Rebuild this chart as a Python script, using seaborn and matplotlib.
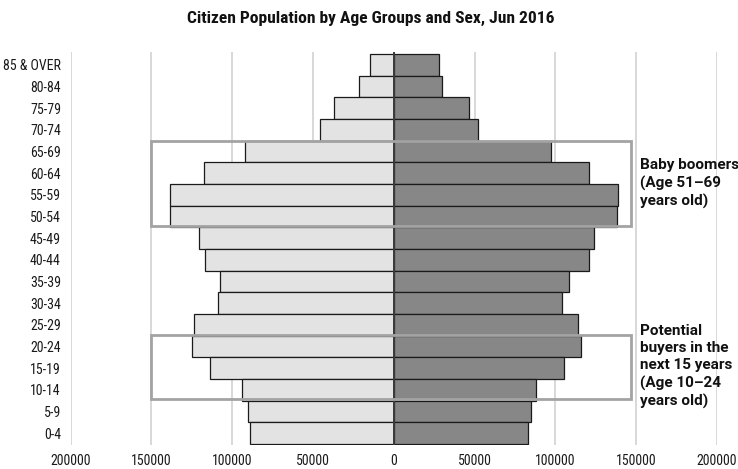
import matplotlib
matplotlib.use("Agg")
import matplotlib.pyplot as plt
import matplotlib.ticker as mticker
from matplotlib.patches import Rectangle
import numpy as np
import pandas as pd
import seaborn as sns

# Age groups, listed from the oldest (top) to the youngest (bottom)
age_groups = ["85 & OVER", "80-84", "75-79", "70-74", "65-69", "60-64", "55-59",
              "50-54", "45-49", "40-44", "35-39", "30-34", "25-29", "20-24",
              "15-19", "10-14", "5-9", "0-4"]
males = [14500, 21300, 37100, 45800, 92000, 117600, 138500, 138500, 120300,
         117000, 107500, 108800, 123400, 125000, 113500, 93700, 90000, 89100]
females = [27800, 30100, 46400, 52200, 97200, 120500, 139000, 138400, 124200,
           120500, 108700, 104200, 114100, 115900, 105600, 88300, 84600, 82900]
x_ticks = [-200000, -150000, -100000, -50000, 0, 50000, 100000, 150000, 200000]

title = "Citizen Population by Age Groups and Sex, Jun 2016"
notes = ["Baby boomers\n(Age 51\u201369\nyears old)",
         "Potential\nbuyers in the\nnext 15 years\n(Age 10\u201324\nyears old)"]

sns.set_theme(style="white")
plt.rcParams["font.family"] = ["Roboto Condensed", "DejaVu Sans"]
plt.rcParams["font.stretch"] = "condensed"

df = pd.DataFrame({"age": age_groups,
                   "male": [-v for v in males],
                   "female": females})

fig = plt.figure(figsize=(7.38, 4.69), dpi=100)
ax = fig.add_axes([0.0958, 0.0522, 0.8757, 0.8363])

bar_kw = dict(orient="h", width=1.0, saturation=1, edgecolor="#1a1a1a",
              linewidth=0.9, ax=ax, zorder=2)
sns.barplot(data=df, x="male", y="age", order=age_groups, color="#e3e3e3", **bar_kw)
sns.barplot(data=df, x="female", y="age", order=age_groups, color="#878787", **bar_kw)

ax.set_xlim(-200000, 200000)
ax.set_ylim(17.52, -0.58)
ax.xaxis.set_major_locator(mticker.FixedLocator(x_ticks))
ax.xaxis.set_major_formatter(mticker.FuncFormatter(lambda v, p: f"{abs(int(v))}"))
ax.grid(axis="x", color="#d2d2d2", linewidth=1.2, zorder=0)
ax.grid(axis="y", visible=False)
ax.set_axisbelow(True)
ax.axvline(0, color="#3a3a3a", linewidth=1.4, zorder=3)
for s in ax.spines.values():
    s.set_visible(False)
ax.tick_params(axis="both", length=0, labelsize=10, colors="#1a1a1a")
ax.tick_params(axis="y", pad=7)
ax.tick_params(axis="x", pad=7)
ax.set_xlabel("")
ax.set_ylabel("")

# Highlight boxes around the two cohorts
boxes = [(3.53, 7.45), (12.45, 15.4)]
for (top, bottom), note in zip(boxes, notes):
    ax.add_patch(Rectangle((-150000, top), 147000 + 150000, bottom - top,
                           fill=False, edgecolor="#a3a3a3", linewidth=2.0,
                           zorder=4, clip_on=False))
    ax.text(152500, (top + bottom) / 2, note, ha="left", va="center",
            fontsize=11, fontweight="bold", color="#111111",
            family=["Roboto", "DejaVu Sans"], stretch="normal",
            linespacing=1.3, clip_on=False)

fig.text(0.503, 0.9616, title, ha="center", va="center", fontsize=12.6,
         fontweight="bold", color="#111111")

fig.savefig("out.png", dpi=100)
